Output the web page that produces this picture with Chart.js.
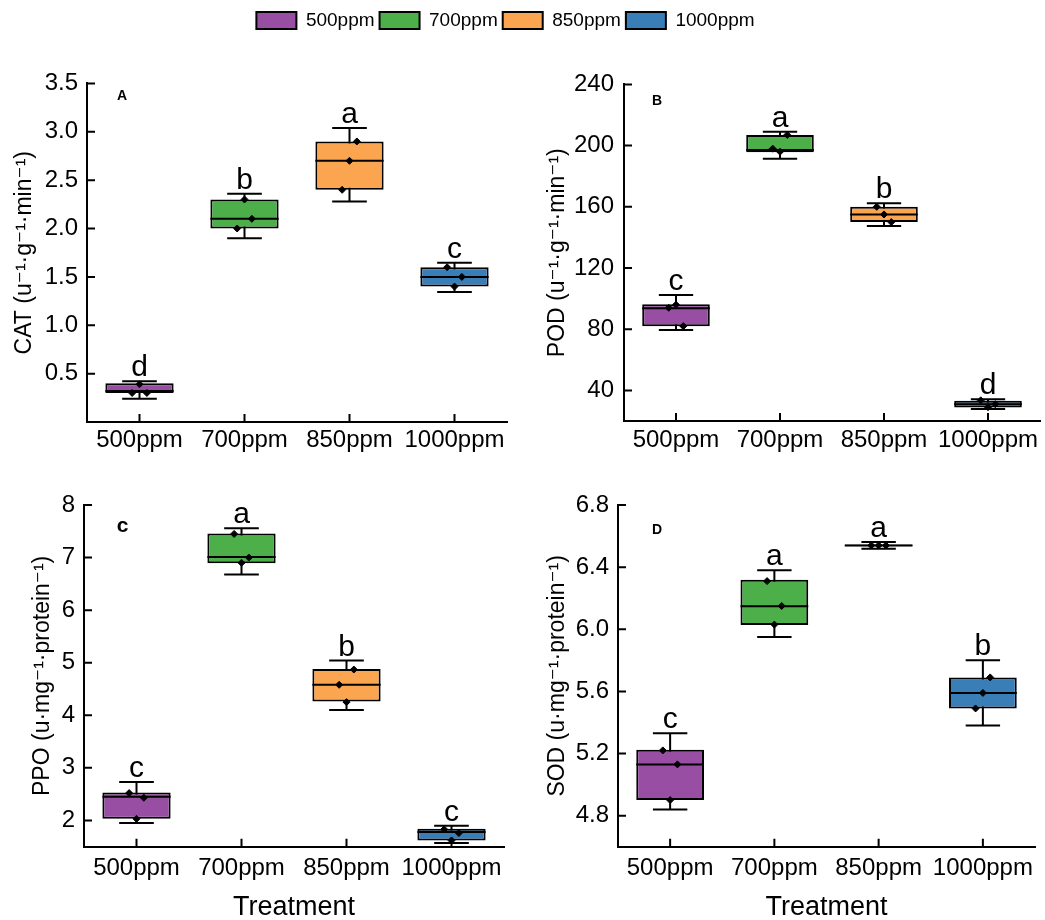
<!DOCTYPE html>
<html>
<head>
<meta charset="utf-8">
<script src="https://cdn.jsdelivr.net/npm/chart.js@4.4.1/dist/chart.umd.min.js"></script>
<style>
  html, body { margin: 0; padding: 0; background: #fff; overflow: hidden; }
  #page { position: relative; width: 1045px; height: 920px; }
  canvas { position: absolute; }
</style>
</head>
<body>
<div id="page">
  <canvas id="legend" width="1011" height="80" style="left:0;top:0"></canvas>
  <canvas id="panelA" width="520" height="400" style="left:0;top:60px"></canvas>
  <canvas id="panelB" width="525" height="400" style="left:520px;top:60px"></canvas>
  <canvas id="panelC" width="520" height="440" style="left:0;top:480px"></canvas>
  <canvas id="panelD" width="525" height="440" style="left:520px;top:480px"></canvas>
</div>
<script>
const treatments = ["500ppm", "700ppm", "850ppm", "1000ppm"];
const colors = ["#984ea3", "#4daf4a", "#fba550", "#3a7eb8"];

// A: CAT
const catMin = [0.24, 1.90, 2.28, 1.345];
const catQ1 = [0.30, 2.00, 2.40, 1.40];
const catMed = [0.32, 2.10, 2.70, 1.50];
const catQ3 = [0.40, 2.30, 2.90, 1.60];
const catMax = [0.42, 2.36, 3.04, 1.645];
const catPoints = [[0.30, 0.39, 0.30], [2.00, 2.30, 2.10], [2.40, 2.70, 2.90], [1.60, 1.40, 1.50]];
const catLetters = ["d", "b", "a", "c"];
const catTicks = [0.5, 1.0, 1.5, 2.0, 2.5, 3.0, 3.5];

// B: POD
const podMin = [79.4, 191.4, 147.4, 27.8];
const podQ1 = [82, 195.7, 150.1, 28.8];
const podMed = [93.7, 197.2, 155, 31];
const podQ3 = [96.3, 207, 160, 33.3];
const podMax = [102.4, 209, 162.4, 34.2];
const podPoints = [[94, 96, 82], [198, 196, 207], [160, 155, 150], [33.5, 29, 31]];
const podLetters = ["c", "a", "b", "d"];
const podTicks = [40, 80, 120, 160, 200, 240];

// C: PPO
const ppoMin = [1.95, 6.68, 4.10, 1.57];
const ppoQ1 = [2.03, 6.89, 4.26, 1.62];
const ppoMed = [2.45, 7.01, 4.58, 1.78];
const ppoQ3 = [2.53, 7.46, 4.88, 1.84];
const ppoMax = [2.73, 7.56, 5.04, 1.90];
const ppoPoints = [[2.52, 2.03, 2.43], [7.45, 6.90, 7.00], [4.58, 4.25, 4.87], [1.83, 1.62, 1.76]];
const ppoLetters = ["c", "a", "b", "c"];
const ppoTicks = [2, 3, 4, 5, 6, 7, 8];

// D: SOD
const sodMin = [4.84, 5.95, 6.518, 5.38];
const sodQ1 = [4.90, 6.028, 6.535, 5.49];
const sodMed = [5.13, 6.148, 6.54, 5.59];
const sodQ3 = [5.224, 6.318, 6.545, 5.69];
const sodMax = [5.33, 6.38, 6.562, 5.80];
const sodPoints = [[5.22, 4.90, 5.13], [6.31, 6.03, 6.15], [6.54, 6.54, 6.54], [5.49, 5.59, 5.69]];
const sodLetters = ["c", "a", "a", "b"];
const sodTicks = [4.8, 5.2, 5.6, 6.0, 6.4, 6.8];

const JITTER = [-0.07, 0.0, 0.07];
const FONT = '"Liberation Sans", Arial, "DejaVu Sans", sans-serif';

Chart.defaults.animation = false;
Chart.defaults.font.family = FONT;
Chart.defaults.color = "#000";

function boxPanel(id, cfg) {
  const n = treatments.length;
  const pts = [];
  cfg.points.forEach((grp, i) => grp.forEach((v, k) => pts.push({ x: i + JITTER[k], y: v })));

  const boxDecor = {
    id: "boxDecor",
    beforeDatasetsDraw(chart) {
      const { ctx, scales: { x, y } } = chart;
      const cap = (x.width / n) * 0.33;
      ctx.save();
      ctx.strokeStyle = "#000";
      ctx.lineWidth = 2;
      for (let i = 0; i < n; i++) {
        const cx = x.getPixelForValue(i);
        const lo = y.getPixelForValue(cfg.min[i]);
        const hi = y.getPixelForValue(cfg.max[i]);
        ctx.beginPath();
        ctx.moveTo(cx, lo); ctx.lineTo(cx, hi);
        ctx.moveTo(cx - cap / 2, lo); ctx.lineTo(cx + cap / 2, lo);
        ctx.moveTo(cx - cap / 2, hi); ctx.lineTo(cx + cap / 2, hi);
        ctx.stroke();
      }
      ctx.restore();
    },
    afterDatasetDraw(chart, args) {
      if (args.index !== 0) return;
      const { ctx, scales: { y } } = chart;
      ctx.save();
      ctx.strokeStyle = "#000";
      ctx.lineWidth = 2;
      args.meta.data.forEach((bar, i) => {
        const py = y.getPixelForValue(cfg.med[i]);
        ctx.beginPath();
        ctx.moveTo(bar.x - bar.width / 2, py);
        ctx.lineTo(bar.x + bar.width / 2, py);
        ctx.stroke();
      });
      ctx.restore();
    },
    afterDraw(chart) {
      const { ctx, chartArea: a, scales: { x, y } } = chart;
      ctx.save();
      // inward tick marks
      ctx.strokeStyle = "#000";
      ctx.lineWidth = 2;
      ctx.beginPath();
      cfg.ticks.forEach((v) => {
        const py = y.getPixelForValue(v);
        ctx.moveTo(a.left, py); ctx.lineTo(a.left + 8, py);
      });
      for (let i = 0; i < n; i++) {
        const px = x.getPixelForValue(i);
        ctx.moveTo(px, a.bottom); ctx.lineTo(px, a.bottom - 8);
      }
      ctx.stroke();
      // significance letters
      ctx.fillStyle = "#000";
      ctx.textAlign = "center";
      ctx.textBaseline = "alphabetic";
      ctx.font = "30px " + FONT;
      cfg.letters.forEach((t, i) => {
        ctx.fillText(t, x.getPixelForValue(i), y.getPixelForValue(cfg.max[i]) - 5);
      });
      // panel label
      ctx.font = "bold " + cfg.tagSize + "px " + FONT;
      ctx.textBaseline = "middle";
      ctx.fillText(cfg.tag, a.left + cfg.tagPos[0], a.top + cfg.tagPos[1]);
      ctx.restore();
    }
  };

  return new Chart(document.getElementById(id), {
    type: "bar",
    data: {
      labels: treatments,
      datasets: [
        {
          data: cfg.q1.map((v, i) => [v, cfg.q3[i]]),
          backgroundColor: colors,
          borderColor: "#000",
          borderWidth: 2,
          borderSkipped: false,
          grouped: false,
          barPercentage: 0.65,
          categoryPercentage: 1,
          order: 1
        },
        {
          type: "scatter",
          data: pts,
          xAxisID: "xj",
          yAxisID: "y",
          pointStyle: "rectRot",
          pointRadius: 3.5,
          backgroundColor: "#000",
          borderColor: "#000",
          borderWidth: 1,
          order: 0
        }
      ]
    },
    options: {
      responsive: false,
      layout: { padding: { top: cfg.padTop, right: cfg.padRight, left: 0, bottom: 0 } },
      plugins: { legend: { display: false }, tooltip: { enabled: false } },
      scales: {
        x: {
          type: "category",
          offset: true,
          grid: { display: false, drawTicks: false },
          border: { display: true, color: "#000", width: 2 },
          ticks: { font: { size: 24 }, padding: cfg.xTickPad, maxRotation: 0, autoSkip: false },
          title: cfg.xTitle
            ? { display: true, text: cfg.xTitle, font: { size: 27, lineHeight: 0.9 }, padding: 0 }
            : { display: false },
          afterFit(s) { s.height = cfg.xH; }
        },
        xj: { type: "linear", display: false, offset: false, grid: { offset: false }, min: -0.5, max: n - 0.5 },
        y: {
          min: cfg.yMin,
          max: cfg.yMax,
          grid: { display: false, drawTicks: false },
          border: { display: true, color: "#000", width: 2 },
          afterBuildTicks(s) { s.ticks = cfg.ticks.map((v) => ({ value: v })); },
          ticks: { font: { size: 24 }, padding: cfg.yTickPad, callback: (v) => Number(v).toFixed(cfg.dec) },
          title: { display: true, text: cfg.yTitle, font: { size: 23 }, padding: { top: cfg.yTitlePad, bottom: 0 } },
          afterFit(s) { s.width = cfg.yW; }
        }
      }
    },
    plugins: [boxDecor]
  });
}

boxPanel("panelA", {
  min: catMin, q1: catQ1, med: catMed, q3: catQ3, max: catMax, points: catPoints, letters: catLetters,
  ticks: catTicks, dec: 1, yMin: 0, yMax: 3.5, yTitle: "CAT (u⁻¹·g⁻¹·min⁻¹)",
  tag: "A", tagSize: 14, tagPos: [35, 13],
  yW: 87, padTop: 20, padRight: 13, xH: 38, yTitlePad: 11, xTickPad: 4, yTickPad: 9
});
boxPanel("panelB", {
  min: podMin, q1: podQ1, med: podMed, q3: podQ3, max: podMax, points: podPoints, letters: podLetters,
  ticks: podTicks, dec: 0, yMin: 20, yMax: 240, yTitle: "POD (u⁻¹·g⁻¹·min⁻¹)",
  tag: "B", tagSize: 14, tagPos: [33, 17],
  yW: 104, padTop: 16, padRight: 4, xH: 39, yTitlePad: 24, xTickPad: 5, yTickPad: 10
});
boxPanel("panelC", {
  min: ppoMin, q1: ppoQ1, med: ppoMed, q3: ppoQ3, max: ppoMax, points: ppoPoints, letters: ppoLetters,
  ticks: ppoTicks, dec: 0, yMin: 1.5, yMax: 8, yTitle: "PPO (u·mg⁻¹·protein⁻¹)", xTitle: "Treatment",
  tag: "c", tagSize: 21, tagPos: [38.5, 21],
  yW: 84, padTop: 25, padRight: 16, xH: 73.3, yTitlePad: 29, xTickPad: 7, yTickPad: 9
});
boxPanel("panelD", {
  min: sodMin, q1: sodQ1, med: sodMed, q3: sodQ3, max: sodMax, points: sodPoints, letters: sodLetters,
  ticks: sodTicks, dec: 1, yMin: 4.6, yMax: 6.8, yTitle: "SOD (u·mg⁻¹·protein⁻¹)", xTitle: "Treatment",
  tag: "D", tagSize: 14, tagPos: [39, 25],
  yW: 98, padTop: 25, padRight: 10, xH: 73.3, yTitlePad: 24, xTickPad: 7, yTickPad: 9
});

// shared legend
new Chart(document.getElementById("legend"), {
  type: "bar",
  data: {
    labels: [],
    datasets: treatments.map((t, i) => ({
      label: t, data: [], backgroundColor: colors[i], borderColor: "#000", borderWidth: 2
    }))
  },
  options: {
    responsive: false,
    layout: { padding: { top: 6 } },
    scales: { x: { display: false }, y: { display: false } },
    plugins: {
      tooltip: { enabled: false },
      legend: {
        display: true,
        onClick: null,
        labels: { boxWidth: 40, boxHeight: 17, padding: 5, font: { size: 19 } }
      }
    }
  }
});
</script>
</body>
</html>
